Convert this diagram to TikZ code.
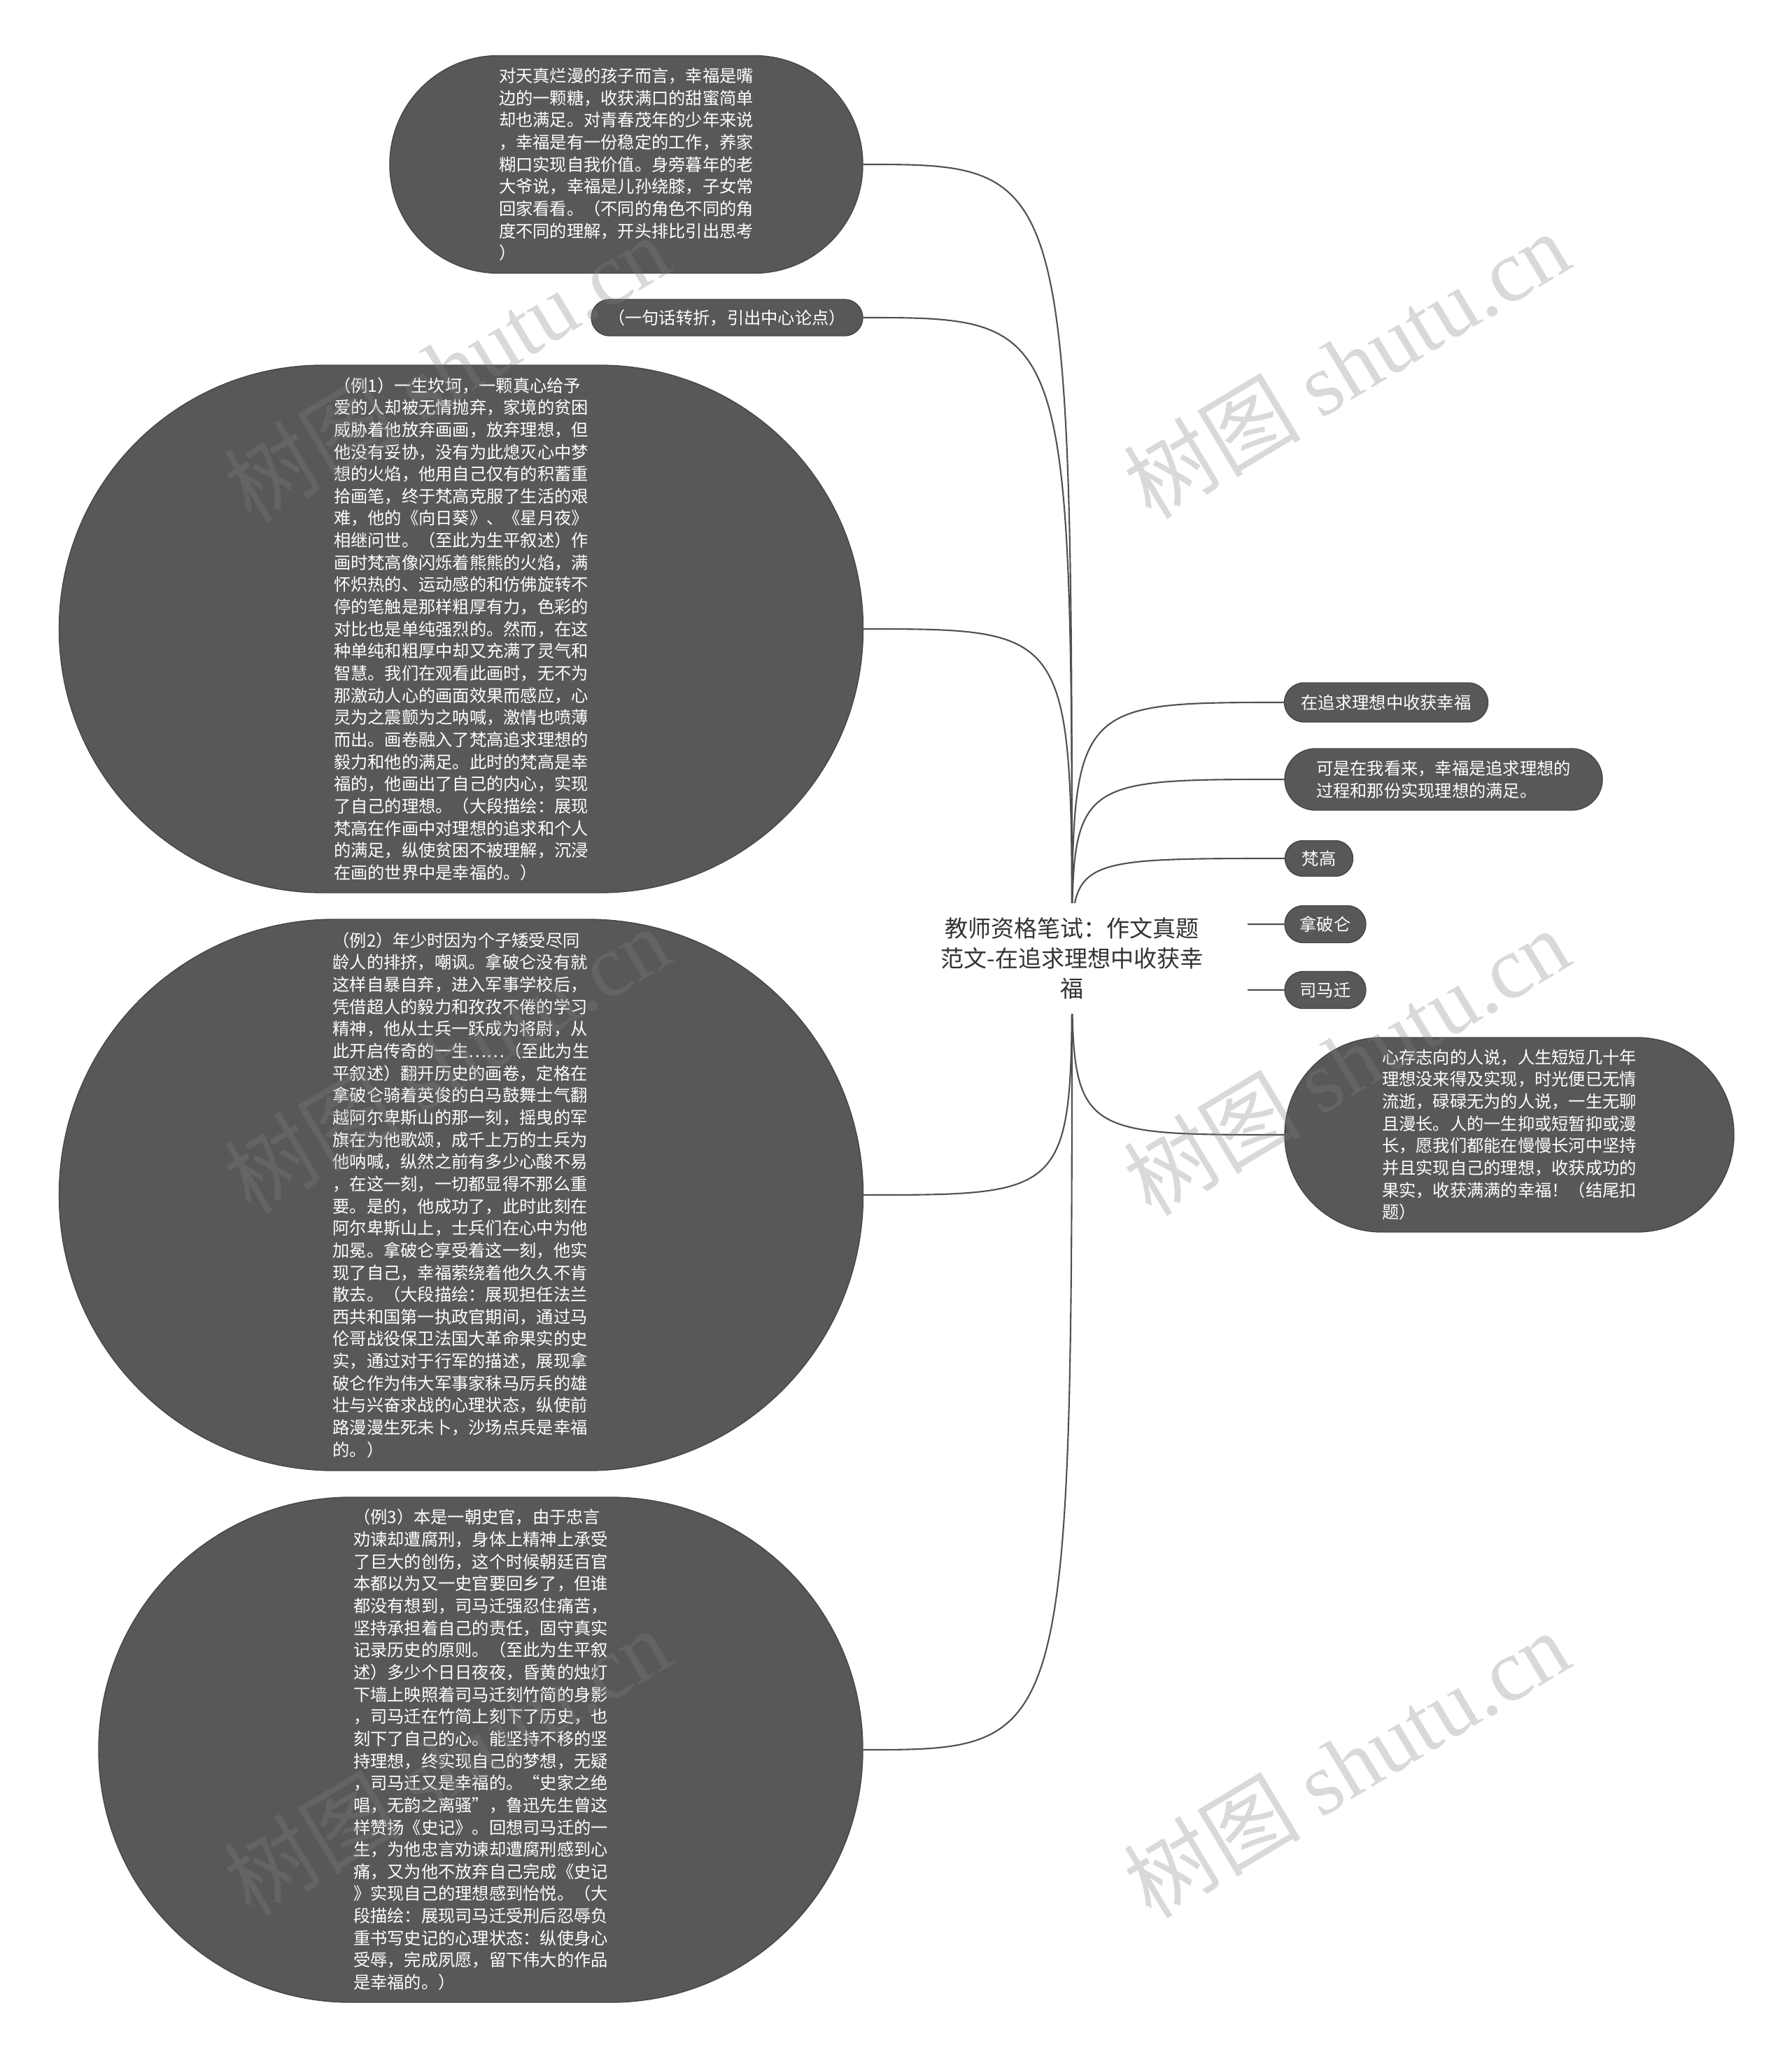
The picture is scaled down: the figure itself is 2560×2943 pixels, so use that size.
\documentclass[tikz,border=0pt]{standalone}
\usepackage{fontspec}
\newfontfamily\cjk{Noto Sans CJK SC}
\newfontfamily\wmserif{Liberation Serif}
\usepackage{tikz}
\usetikzlibrary{backgrounds}
\usepackage{xcolor}
\definecolor{pillgray}{RGB}{88,88,88}
\definecolor{pillline}{RGB}{70,70,70}
\definecolor{linkgray}{RGB}{80,80,80}
\definecolor{roottext}{RGB}{51,51,51}
\definecolor{markgray}{RGB}{128,128,128}
\tikzset{
  pill/.style 2 args={draw=pillline,fill=pillgray,text=white,
    font=\cjk\fontsize{6.9}{9.0}\selectfont,align=left,inner sep=0pt,
    minimum width=#1*0.01cm,minimum height=#2*0.01cm,rounded corners=#2*0.00499cm},
  link/.style={draw=linkgray,line width=0.6pt},
  wmark/.style={text=markgray,opacity=0.3,rotate=31,inner sep=0pt,
    font=\fontsize{36}{40}\selectfont}
}

\begin{document}
\begin{tikzpicture}[x=0.01cm,y=-0.01cm]
\useasboundingbox (0,0) rectangle (2560,2943);
\node[fill=white,text=roottext,align=center,inner sep=0pt,minimum width=5.02cm,minimum height=1.58cm,
  font=\cjk\fontsize{9.4}{12.2}\selectfont] (root) at (1532,1370)
  {教师资格笔试：作文真题\\范文-在追求理想中收获幸\\福};
\node[pill={676}{311}] (intro) at (895,235) {对天真烂漫的孩子而言，幸福是嘴\\边的一颗糖，收获满口的甜蜜简单\\却也满足。对青春茂年的少年来说\\，幸福是有一份稳定的工作，养家\\糊口实现自我价值。身旁暮年的老\\大爷说，幸福是儿孙绕膝，子女常\\回家看看。（不同的角色不同的角\\度不同的理解，开头排比引出思考\\）};
\node[pill={388}{52}] (turn) at (1039,454) {（一句话转折，引出中心论点）};
\node[pill={1149}{754}] (vangogh) at (659,899) {（例1）一生坎坷，一颗真心给予\\爱的人却被无情抛弃，家境的贫困\\威胁着他放弃画画，放弃理想，但\\他没有妥协，没有为此熄灭心中梦\\想的火焰，他用自己仅有的积蓄重\\拾画笔，终于梵高克服了生活的艰\\难，他的《向日葵》、《星月夜》\\相继问世。（至此为生平叙述）作\\画时梵高像闪烁着熊熊的火焰，满\\怀炽热的、运动感的和仿佛旋转不\\停的笔触是那样粗厚有力，色彩的\\对比也是单纯强烈的。然而，在这\\种单纯和粗厚中却又充满了灵气和\\智慧。我们在观看此画时，无不为\\那激动人心的画面效果而感应，心\\灵为之震颤为之呐喊，激情也喷薄\\而出。画卷融入了梵高追求理想的\\毅力和他的满足。此时的梵高是幸\\福的，他画出了自己的内心，实现\\了自己的理想。（大段描绘：展现\\梵高在作画中对理想的追求和个人\\的满足，纵使贫困不被理解，沉浸\\在画的世界中是幸福的。）};
\node[pill={1149}{788}] (napoleon) at (659,1708) {（例2）年少时因为个子矮受尽同\\龄人的排挤，嘲讽。拿破仑没有就\\这样自暴自弃，进入军事学校后，\\凭借超人的毅力和孜孜不倦的学习\\精神，他从士兵一跃成为将尉，从\\此开启传奇的一生……（至此为生\\平叙述）翻开历史的画卷，定格在\\拿破仑骑着英俊的白马鼓舞士气翻\\越阿尔卑斯山的那一刻，摇曳的军\\旗在为他歌颂，成千上万的士兵为\\他呐喊，纵然之前有多少心酸不易\\，在这一刻，一切都显得不那么重\\要。是的，他成功了，此时此刻在\\阿尔卑斯山上，士兵们在心中为他\\加冕。拿破仑享受着这一刻，他实\\现了自己，幸福萦绕着他久久不肯\\散去。（大段描绘：展现担任法兰\\西共和国第一执政官期间，通过马\\伦哥战役保卫法国大革命果实的史\\实，通过对于行军的描述，展现拿\\破仑作为伟大军事家秣马厉兵的雄\\壮与兴奋求战的心理状态，纵使前\\路漫漫生死未卜，沙场点兵是幸福\\的。）};
\node[pill={1092}{722}] (simaqian) at (687,2501) {（例3）本是一朝史官，由于忠言\\劝谏却遭腐刑，身体上精神上承受\\了巨大的创伤，这个时候朝廷百官\\本都以为又一史官要回乡了，但谁\\都没有想到，司马迁强忍住痛苦，\\坚持承担着自己的责任，固守真实\\记录历史的原则。（至此为生平叙\\述）多少个日日夜夜，昏黄的烛灯\\下墙上映照着司马迁刻竹简的身影\\，司马迁在竹简上刻下了历史，也\\刻下了自己的心。能坚持不移的坚\\持理想，终实现自己的梦想，无疑\\，司马迁又是幸福的。“史家之绝\\唱，无韵之离骚”，鲁迅先生曾这\\样赞扬《史记》。回想司马迁的一\\生，为他忠言劝谏却遭腐刑感到心\\痛，又为他不放弃自己完成《史记\\》实现自己的理想感到怡悦。（大\\段描绘：展现司马迁受刑后忍辱负\\重书写史记的心理状态：纵使身心\\受辱，完成夙愿，留下伟大的作品\\是幸福的。）};
\node[pill={291}{56}] (title) at (1981,1004) {在追求理想中收获幸福};
\node[pill={454}{88}] (view) at (2063,1114) {可是在我看来，幸福是追求理想的\\过程和那份实现理想的满足。};
\node[pill={97}{51}] (fg) at (1885,1227) {梵高};
\node[pill={116}{53}] (npl) at (1894,1321) {拿破仑};
\node[pill={116}{53}] (smq) at (1894,1415) {司马迁};
\node[pill={642}{278}] (ending) at (2157,1622) {心存志向的人说，人生短短几十年\\理想没来得及实现，时光便已无情\\流逝，碌碌无为的人说，一生无聊\\且漫长。人的一生抑或短暂抑或漫\\长，愿我们都能在慢慢长河中坚持\\并且实现自己的理想，收获成功的\\果实，收获满满的幸福！（结尾扣\\题）};
\begin{pgfonlayer}{background}
\foreach \leaf in {intro,turn,vangogh,napoleon,simaqian}
  \draw[link] (root.center) .. controls (root.center |- \leaf.east) .. (\leaf.east);
\foreach \leaf in {title,view,fg,npl,smq,ending}
  \draw[link] (root.center) .. controls (root.center |- \leaf.west) .. (\leaf.west);
\end{pgfonlayer}
\foreach \wx/\wy [count=\i] in {638/526,638/1514,638/2518,1924/521,1924/1517,1924/2521}
  \node[wmark] (wm\i) at (\wx,\wy) {\cjk 树图 \wmserif shutu.cn};
\end{tikzpicture}
\end{document}
